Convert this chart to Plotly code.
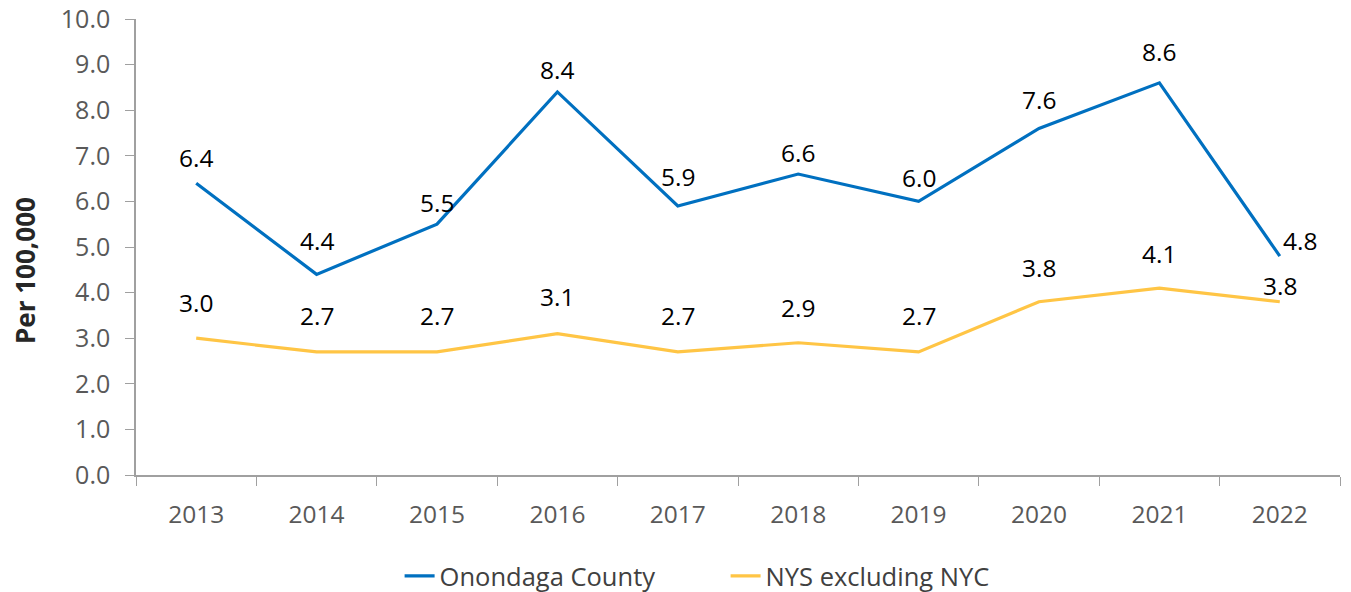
import plotly.graph_objects as go

years = ["2013", "2014", "2015", "2016", "2017", "2018", "2019", "2020", "2021", "2022"]
onondaga = [6.4, 4.4, 5.5, 8.4, 5.9, 6.6, 6.0, 7.6, 8.6, 4.8]
nys_excl_nyc = [3.0, 2.7, 2.7, 3.1, 2.7, 2.9, 2.7, 3.8, 4.1, 3.8]
y_ticks = [0, 1, 2, 3, 4, 5, 6, 7, 8, 9, 10]
y_title = "Per 100,000"

# label offsets (pixels) - styling only
blue_dy = [26, 34, 22, 22, 29, 22, 24, 29, 31, 16]
blue_dx = [0, 0, 0, 0, 0, 0, 0, 0, 0, 20]
gold_dy = [36, 36, 36, 37, 36, 35, 36, 34, 35, 16]

BLUE = "#0070C0"
GOLD = "#FFC545"
FONT = "Open Sans"

fig = go.Figure()
fig.add_trace(go.Scatter(x=years, y=onondaga, mode="lines", name="Onondaga County",
                         line=dict(color=BLUE, width=3.2)))
fig.add_trace(go.Scatter(x=years, y=nys_excl_nyc, mode="lines", name="NYS excluding NYC",
                         line=dict(color=GOLD, width=3.2)))

annotations = []
for i, (v, dy, dx) in enumerate(zip(onondaga, blue_dy, blue_dx)):
    annotations.append(dict(x=i, y=v, text=f"{v:.1f}", showarrow=False, xref="x", yref="y",
                            xanchor="center", yanchor="middle", yshift=dy, xshift=dx,
                            font=dict(family=FONT, size=24.5, color="#000000")))
for i, (v, dy) in enumerate(zip(nys_excl_nyc, gold_dy)):
    annotations.append(dict(x=i, y=v, text=f"{v:.1f}", showarrow=False, xref="x", yref="y",
                            xanchor="center", yanchor="middle", yshift=dy,
                            font=dict(family=FONT, size=24.5, color="#000000")))
# y-axis title
annotations.append(dict(x=0, y=0.5, xref="paper", yref="paper", text=f"<b>{y_title}</b>",
                        textangle=-90, showarrow=False, xanchor="center", yanchor="middle",
                        xshift=-111, yshift=-24,
                        font=dict(family=FONT, size=26, color="#262626")))

fig.update_layout(
    width=1343, height=584,
    margin=dict(l=128, r=11, t=11, b=117, autoexpand=False),
    plot_bgcolor="white", paper_bgcolor="white",
    font=dict(family=FONT, size=24, color="#595959"),
    annotations=annotations,
    showlegend=True,
    legend=dict(orientation="h", x=0.4897, xanchor="center", y=-0.222, yanchor="middle",
                font=dict(family=FONT, size=25.5, color="#404040"), itemwidth=30,
                entrywidth=281, entrywidthmode="pixels", tracegroupgap=0),
    xaxis=dict(type="category", range=[-0.5, 9.5], showgrid=False, showline=True,
               linecolor="#A0A0A0", linewidth=1.5,
               ticks="outside", tickson="boundaries", ticklen=9, tickcolor="#A0A0A0",
               ticklabelstandoff=17, ticklabeloverflow="allow",
               tickfont=dict(family=FONT, size=24.5, color="#595959")),
    yaxis=dict(range=[0, 10], tickvals=y_ticks, ticktext=[f"{t:.1f}" for t in y_ticks],
               showgrid=False, showline=True, linecolor="#A0A0A0", linewidth=1.5,
               ticks="outside", ticklen=9, tickcolor="#A0A0A0", ticklabelstandoff=10,
               ticklabeloverflow="allow",
               tickfont=dict(family=FONT, size=25, color="#595959")),
)

fig.write_html("out.html")
